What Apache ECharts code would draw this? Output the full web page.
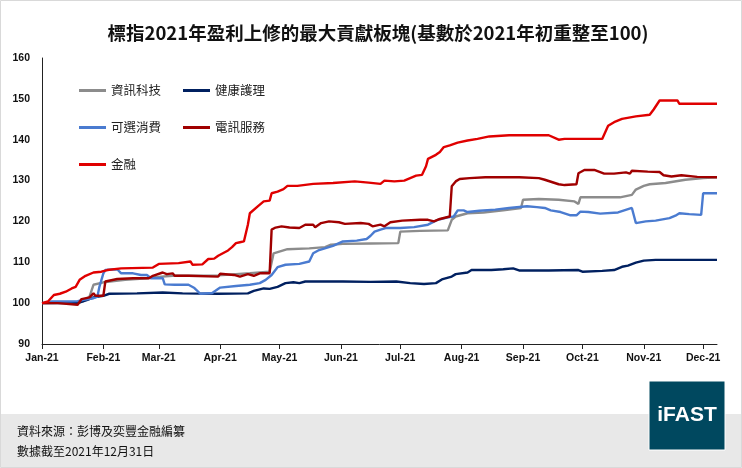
<meta charset="utf-8">
<script src="https://cdn.jsdelivr.net/npm/echarts@6.0.0/dist/echarts.min.js"></script>
<style>
html,body{margin:0;padding:0;background:#fff}
#main{width:742px;height:468px}
</style>
<body>
<div id="main"></div>
<script>

// 讀圖估算的數值 (日期, 指數)
var itData = [['2021-01-01',100],['2021-01-09',100.1],['2021-01-19',100.1],['2021-01-22',100.5],['2021-01-25',101.6],['2021-01-27',104.5],['2021-01-28',104.9],['2021-02-01',105.1],['2021-02-12',105.7],['2021-02-23',106.1],['2021-02-26',106.3],['2021-03-08',106.7],['2021-03-31',106.8],['2021-04-16',107.3],['2021-04-26',107.7],['2021-04-28',112.2],['2021-04-29',112.6],['2021-05-05',113.2],['2021-05-16',113.4],['2021-05-24',113.7],['2021-05-27',114.3],['2021-06-02',114.5],['2021-06-16',114.6],['2021-06-30',114.7],['2021-07-01',117.5],['2021-07-11',117.7],['2021-07-25',117.8],['2021-07-27',120.4],['2021-07-29',121.2],['2021-08-04',122],['2021-08-12',122.2],['2021-08-22',122.7],['2021-08-31',123.3],['2021-09-01',125.3],['2021-09-09',125.5],['2021-09-19',125.3],['2021-09-27',124.9],['2021-09-29',124.3],['2021-09-30',125.9],['2021-10-20',125.9],['2021-10-26',126.5],['2021-10-28',127.8],['2021-11-01',128.7],['2021-11-04',129.1],['2021-11-12',129.4],['2021-11-22',130.2],['2021-12-01',130.6],['2021-12-08',130.8]];

var healthData = [['2021-01-01',100],['2021-01-19',100],['2021-01-24',100.8],['2021-01-27',101.4],['2021-02-01',101.8],['2021-02-04',102.3],['2021-02-18',102.4],['2021-03-03',102.6],['2021-03-13',102.4],['2021-03-31',102.3],['2021-04-15',102.4],['2021-04-18',103],['2021-04-23',103.6],['2021-04-26',103.5],['2021-04-30',104],['2021-05-04',104.9],['2021-05-08',105.1],['2021-05-11',104.9],['2021-05-14',105.3],['2021-06-02',105.3],['2021-06-16',105.2],['2021-06-29',105.3],['2021-07-06',104.9],['2021-07-13',104.7],['2021-07-19',104.9],['2021-07-22',105.8],['2021-07-27',106.5],['2021-07-29',107.1],['2021-08-04',107.5],['2021-08-06',108.1],['2021-08-16',108.1],['2021-08-22',108.3],['2021-08-27',108.5],['2021-08-30',108],['2021-09-14',108],['2021-09-29',108.1],['2021-10-01',107.7],['2021-10-11',107.9],['2021-10-17',108.1],['2021-10-21',108.9],['2021-10-24',109.2],['2021-10-28',109.9],['2021-11-01',110.4],['2021-11-07',110.6],['2021-12-08',110.6]];

var consData = [['2021-01-01',100],['2021-01-06',100.4],['2021-01-13',100.4],['2021-01-19',100.5],['2021-01-22',100.8],['2021-01-27',101.2],['2021-01-29',101.6],['2021-01-30',104],['2021-02-01',107.3],['2021-02-02',108.1],['2021-02-08',108.3],['2021-02-10',107.3],['2021-02-16',107.3],['2021-02-20',106.9],['2021-02-23',106.9],['2021-02-25',106.1],['2021-03-03',106.1],['2021-03-04',104.6],['2021-03-09',104.5],['2021-03-16',104.5],['2021-03-19',103.7],['2021-03-22',102.3],['2021-03-28',102.5],['2021-04-01',103.8],['2021-04-09',104.2],['2021-04-16',104.5],['2021-04-21',104.9],['2021-04-24',105.7],['2021-04-27',106.9],['2021-04-30',108.8],['2021-05-04',109.4],['2021-05-11',109.6],['2021-05-16',110.2],['2021-05-18',112.2],['2021-05-21',113],['2021-05-28',114],['2021-06-02',115.1],['2021-06-09',115.3],['2021-06-14',115.7],['2021-06-16',116.5],['2021-06-18',117.5],['2021-06-21',118],['2021-06-24',118.4],['2021-07-01',118.4],['2021-07-08',118.6],['2021-07-15',119.2],['2021-07-20',120.4],['2021-07-25',121],['2021-07-28',121.2],['2021-07-30',122.7],['2021-08-02',122.7],['2021-08-04',122.3],['2021-08-10',122.6],['2021-08-18',122.9],['2021-08-25',123.3],['2021-09-03',123.7],['2021-09-08',123.5],['2021-09-12',123.3],['2021-09-15',122.7],['2021-09-20',122.3],['2021-09-25',121.5],['2021-09-28',121.5],['2021-09-30',122.4],['2021-10-04',122.3],['2021-10-10',121.9],['2021-10-19',122.2],['2021-10-26',123.3],['2021-10-27',123.3],['2021-10-28',119.6],['2021-11-02',120],['2021-11-07',120.2],['2021-11-14',120.8],['2021-11-17',121.4],['2021-11-19',122],['2021-11-24',121.8],['2021-11-30',121.6],['2021-12-01',126.9],['2021-12-08',126.9]];

var telecomData = [['2021-01-01',100],['2021-01-09',100],['2021-01-19',99.6],['2021-01-21',101],['2021-01-25',101.4],['2021-01-27',102.4],['2021-01-28',101.8],['2021-02-01',101.8],['2021-02-02',105.3],['2021-02-08',105.9],['2021-02-16',106.1],['2021-02-24',106.1],['2021-02-26',106.7],['2021-03-03',107.5],['2021-03-05',107.1],['2021-03-08',107.3],['2021-03-09',106.7],['2021-03-16',106.7],['2021-03-31',106.5],['2021-04-01',107.2],['2021-04-08',106.9],['2021-04-11',106.5],['2021-04-15',107.1],['2021-04-18',106.7],['2021-04-21',107.3],['2021-04-26',107.3],['2021-04-27',118],['2021-04-29',118.5],['2021-05-02',118.8],['2021-05-06',118.5],['2021-05-11',118.4],['2021-05-14',119.2],['2021-05-18',119.2],['2021-05-19',118.6],['2021-05-22',119.6],['2021-05-26',120],['2021-05-31',119.8],['2021-06-03',119.4],['2021-06-11',119.6],['2021-06-15',119.4],['2021-06-17',118.8],['2021-06-21',119.2],['2021-06-23',118.8],['2021-06-26',119.8],['2021-07-02',120.2],['2021-07-11',120.4],['2021-07-15',120.4],['2021-07-18',120],['2021-07-21',120.6],['2021-07-26',121.2],['2021-07-27',128.6],['2021-07-29',129.8],['2021-07-31',130.4],['2021-08-05',130.6],['2021-08-13',130.8],['2021-08-30',130.8],['2021-09-09',130.6],['2021-09-12',130.2],['2021-09-19',129.1],['2021-09-22',128.9],['2021-09-28',129.1],['2021-09-29',131.8],['2021-10-02',132.6],['2021-10-07',132.6],['2021-10-12',131.7],['2021-10-17',131.7],['2021-10-23',132],['2021-10-25',131.7],['2021-10-26',132.4],['2021-10-27',132],['2021-11-03',132.2],['2021-11-09',132.1],['2021-11-11',131.3],['2021-11-15',131],['2021-11-20',131.3],['2021-11-28',130.9],['2021-12-08',130.8]];

var finData = [['2021-01-01',100],['2021-01-04',100.4],['2021-01-07',102],['2021-01-10',102.3],['2021-01-13',102.8],['2021-01-16',103.6],['2021-01-18',104],['2021-01-20',105.7],['2021-01-23',106.7],['2021-01-27',107.5],['2021-01-31',107.7],['2021-02-03',108.1],['2021-02-10',108.5],['2021-02-26',108.7],['2021-03-01',109.6],['2021-03-11',109.8],['2021-03-17',110.2],['2021-03-18',109.4],['2021-03-23',109.5],['2021-03-26',110.8],['2021-03-29',110.9],['2021-03-31',111.6],['2021-04-05',112.9],['2021-04-07',113.7],['2021-04-09',114.7],['2021-04-11',114.9],['2021-04-13',115.1],['2021-04-15',119.2],['2021-04-16',122],['2021-04-20',123.7],['2021-04-23',124.9],['2021-04-26',125.1],['2021-04-27',126.9],['2021-04-30',127.3],['2021-05-03',127.9],['2021-05-05',128.7],['2021-05-10',128.7],['2021-05-18',129.2],['2021-05-28',129.4],['2021-06-08',129.8],['2021-06-15',129.5],['2021-06-21',129.2],['2021-06-23',130],['2021-06-28',129.8],['2021-07-03',130],['2021-07-06',130.6],['2021-07-09',131.2],['2021-07-12',131.4],['2021-07-14',133.5],['2021-07-15',135.3],['2021-07-19',136.3],['2021-07-21',137],['2021-07-23',138.2],['2021-07-26',138.6],['2021-07-30',139.3],['2021-08-04',139.8],['2021-08-09',140.2],['2021-08-15',140.8],['2021-08-25',141.1],['2021-09-14',141.1],['2021-09-15',140.8],['2021-09-19',140],['2021-09-22',140.2],['2021-10-11',140.2],['2021-10-14',143.4],['2021-10-17',144.3],['2021-10-21',145.1],['2021-10-28',145.7],['2021-11-04',146.1],['2021-11-06',147.4],['2021-11-09',149.6],['2021-11-18',149.6],['2021-11-19',148.8],['2021-12-08',148.8]];

var seriesNames = ['資訊科技', '健康護理', '可選消費', '電訊服務', '金融'];
var seriesColors = ['#8c8c8c', '#002060', '#4a7bd0', '#a00000', '#e00000'];
var seriesData = [itData, healthData, consData, telecomData, finData];
var monthNames = ['Jan','Feb','Mar','Apr','May','Jun','Jul','Aug','Sep','Oct','Nov','Dec'];

var chart = echarts.init(document.getElementById('main'));

var series = [];
for (var i = 0; i < seriesNames.length; i++) {
	series.push({
		name: seriesNames[i], type: 'line', showSymbol: false, symbol: 'none',
		data: seriesData[i],
		lineStyle: { width: 2.4, color: seriesColors[i] },
		itemStyle: { color: seriesColors[i] }
	});
}

var option = {
	animation: false,
	backgroundColor: '#fff',
	grid: { left: 42, right: 25, top: 58, bottom: 124, containLabel: false },
	legend: {
		data: seriesNames, left: 74, top: 78, width: 220,
		itemGap: 22, itemWidth: 27, itemHeight: 3, icon: 'rect',
		textStyle: { fontSize: 12.5, color: '#222', fontFamily: 'Noto Sans CJK TC', lineHeight: 15 }
	},
	xAxis: {
		type: 'time', min: '2021-01-01', max: '2021-12-08',
		splitNumber: 12, minInterval: 28 * 86400000, maxInterval: 31 * 86400000,
		axisLine: { lineStyle: { color: '#222', width: 1 } },
		axisTick: { show: true, length: 5, lineStyle: { color: '#222' } },
		splitLine: { show: false },
		axisLabel: {
			margin: 9, fontSize: 10.5, fontWeight: 'bold', color: '#111', fontFamily: 'Liberation Sans',
			formatter: function (v) {
				var d = new Date(v);
				return monthNames[d.getMonth()] + '-' + String(d.getFullYear()).slice(2);
			}
		}
	},
	yAxis: {
		type: 'value', min: 90, max: 160, interval: 10,
		axisLine: { show: true, lineStyle: { color: '#222', width: 1 } },
		axisTick: { show: false },
		splitLine: { show: false },
		axisLabel: { margin: 12, fontSize: 10.5, fontWeight: 'bold', color: '#111', fontFamily: 'Liberation Sans' }
	},
	graphic: [
		{ type: 'rect', z: -10, shape: { x: 0.5, y: 0.5, width: 741, height: 467 }, style: { fill: 'none', stroke: '#d9d9d9', lineWidth: 1 } },
		{ type: 'text', x: 378, y: 33, z: 10,
			style: { text: '標指2021年盈利上修的最大貢獻板塊(基數於2021年初重整至100)', font: 'bold 18.5px "Noto Sans CJK TC"', fill: '#111', align: 'center', verticalAlign: 'middle' } },
		{ type: 'rect', z: -5, shape: { x: 1, y: 414, width: 740, height: 53 }, style: { fill: '#e8e8e8' } },
		{ type: 'text', x: 17, y: 425, style: { text: '資料來源：彭博及奕豐金融編纂', font: '12px "Noto Sans CJK TC"', fill: '#111' } },
		{ type: 'text', x: 17, y: 445, style: { text: '數據截至2021年12月31日', font: '12px "Noto Sans CJK TC"', fill: '#111' } },
		{ type: 'rect', shape: { x: 649, y: 381, width: 76, height: 69 }, style: { fill: '#00485f', stroke: '#ffffff', lineWidth: 1 } },
		{ type: 'text', x: 687, y: 415, style: { text: 'iFAST', font: 'bold 21px "Liberation Sans"', fill: '#fff', align: 'center', verticalAlign: 'middle' } }
	],
	series: series
};

chart.setOption(option);
</script>
</body>
